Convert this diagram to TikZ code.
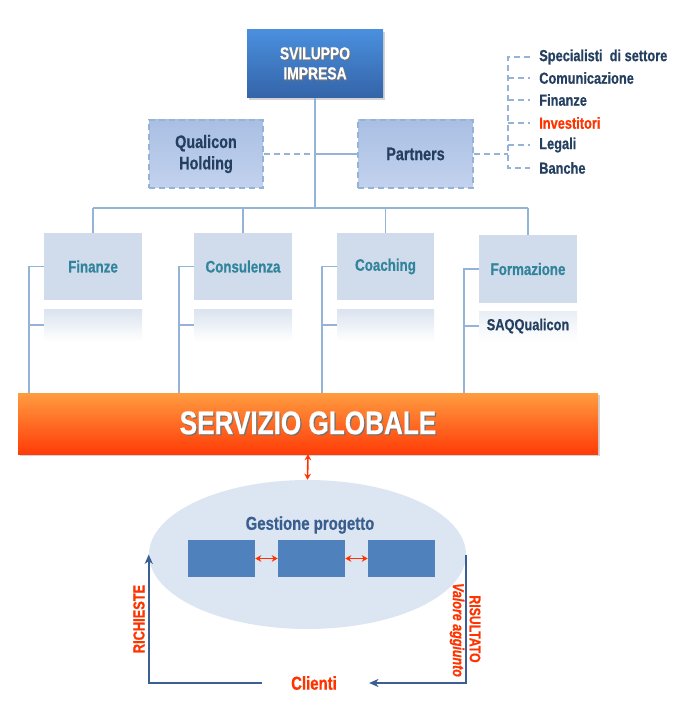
\documentclass[tikz,border=0pt]{standalone}
\usepackage{fontspec}
\setmainfont{Liberation Sans}[FakeStretch=0.8, BoldFeatures={FakeBold=0.6}, BoldItalicFeatures={FakeBold=0.6}]
\usetikzlibrary{shapes.geometric,shadows,calc,arrows.meta}
\definecolor{conn}{HTML}{95B3D7}
\definecolor{navy}{HTML}{243F60}
\definecolor{teal}{HTML}{31849B}
\definecolor{redo}{HTML}{FF3300}
\definecolor{boxf}{HTML}{D0DCEB}
\definecolor{loopc}{HTML}{3B5F94}
\definecolor{pbtop}{HTML}{A9BFE3}
\definecolor{pbbot}{HTML}{C3D2EE}
\definecolor{subtop}{HTML}{DAE3EF}
\newcommand\shtx[1]{\leavevmode\rlap{\kern0.9pt\raisebox{-0.9pt}{\textcolor{black!55}{#1}}}#1}
\tikzset{
  line/.style={draw=conn, line width=1.4pt},
  dline/.style={line, dash pattern=on 4.5pt off 3pt},
  gbox/.style={rectangle, inner sep=0pt, fill=boxf, text=teal, font=\bfseries\fontsize{12.5}{15}\selectfont},
  pbox/.style={rectangle, inner sep=0pt, draw=conn, line width=1.4pt, dash pattern=on 4.5pt off 3pt,
     top color=pbtop, bottom color=pbbot, text=navy, align=center, font=\bfseries\fontsize{13.5}{16}\selectfont},
  subbox/.style={rectangle, inner sep=0pt, top color=subtop, bottom color=white},
  item/.style={anchor=west, inner sep=0pt, text=navy, font=\bfseries\fontsize{12}{14}\selectfont},
  rarr/.style={draw=redo, line width=1.2pt, {Stealth[length=4.5pt,width=5pt]}-{Stealth[length=4.5pt,width=5pt]}},
  larr/.style={draw=loopc, line width=1.4pt, -{Stealth[length=7pt,width=6pt,inset=2pt]}},
  rlab/.style={text=redo, inner sep=0pt, font=\bfseries\fontsize{12}{14}\selectfont},
}
\begin{document}
\begin{tikzpicture}[x=0.75pt,y=-0.75pt]
\useasboundingbox (0,0) rectangle (686,720);
% top box
\node[rectangle, inner sep=0pt, minimum width=136*0.75pt, minimum height=68*0.75pt,
  top color={rgb,255:red,74;green,143;blue,222}, bottom color={rgb,255:red,52;green,100;blue,168},
  drop shadow={shadow xshift=1.5pt, shadow yshift=-1.5pt, opacity=0.35},
  text=white, align=center, font=\bfseries\fontsize{13}{15}\selectfont] (top) at (315,64)
  {\shtx{SVILUPPO}\\\shtx{IMPRESA}};
% bus
\coordinate (busL) at (93,208);
\coordinate (busR) at (528,208);
\draw[line] (busL) -- (busR);
\draw[line] (top.south) -- (top.south |- busL);
% Qualicon & Partners
\node[pbox, minimum width=114*0.75pt, minimum height=68*0.75pt] (qh) at (206,154) {Qualicon\\Holding};
\node[pbox, minimum width=115*0.75pt, minimum height=68*0.75pt] (pa) at (415.5,154) {Partners};
\draw[dline] (qh.east) -- (qh.east -| top.south);
\draw[line] (pa.west) -- (pa.west -| top.south);
% partners list
\node[item] (s1) at (539,57) {Specialisti\ \ di settore};
\node[item] (s2) at (539,78) {Comunicazione};
\node[item] (s3) at (539,100) {Finanze};
\node[item, text=redo] (s4) at (539,123) {Investitori};
\node[item] (s5) at (539,145) {Legali};
\node[item] (s6) at (539,168) {Banche};
\coordinate (pj) at (508,154);
\draw[dline] (pa.east) -- (pj);
\draw[dline] ($(s1.west)+(-9,0)$) -| ($(s6.west)+(-31,0)$) -- ($(s6.west)+(-9,0)$);
\foreach \s in {s2,s3,s4,s5}{
  \draw[dline] ($(\s.west)+(-31,0)$) -- ($(\s.west)+(-9,0)$);
}
% service boxes
\node[gbox, minimum width=98*0.75pt, minimum height=67*0.75pt] (fin) at (93,266.5) {Finanze};
\node[gbox, minimum width=98*0.75pt, minimum height=67*0.75pt] (con) at (243,266.5) {Consulenza};
\node[gbox, minimum width=97*0.75pt, minimum height=67*0.75pt] (coa) at (385.5,266.5) {Coaching};
\node[gbox, minimum width=98*0.75pt, minimum height=68*0.75pt] (for) at (528,269) {Formazione};
\foreach \b in {fin,con,coa,for}{
  \draw[line] (\b.north) -- (\b.north |- busL);
}
\node[subbox, minimum width=98*0.75pt, minimum height=32*0.75pt] (fins) at (93,325) {};
\node[subbox, minimum width=98*0.75pt, minimum height=32*0.75pt] (cons) at (243,325) {};
\node[subbox, minimum width=97*0.75pt, minimum height=32*0.75pt] (coas) at (385.5,325) {};
\node[subbox, top color={rgb,255:red,232;green,238;blue,246}, minimum width=98*0.75pt, minimum height=30*0.75pt,
  text=navy, font=\bfseries\fontsize{12}{14}\selectfont] (fors) at (528,326) {SAQQualicon};
% orange bar
\node[rectangle, inner sep=0pt, minimum width=580*0.75pt, minimum height=61*0.75pt,
  top color={rgb,255:red,255;green,156;blue,64}, bottom color={rgb,255:red,255;green,60;blue,8},
  drop shadow={shadow xshift=1.5pt, shadow yshift=-1.5pt, opacity=0.35},
  text=white, font=\bfseries\fontsize{24.5}{28}\selectfont] (bar) at (308,423.5) {\shtx{SERVIZIO GLOBALE}};
% brackets
\foreach \b/\s in {fin/fins,con/cons,coa/coas,for/fors}{
  \draw[line] (\b.west) -- ++(-15,0) coordinate (tmp) -- (tmp |- bar.north);
  \draw[line] (\s.west) -- (\s.west -| tmp);
}
% ellipse
\node[ellipse, inner sep=0pt, minimum width=317*0.75pt, minimum height=149*0.75pt,
  fill={rgb,255:red,220;green,230;blue,242}] (ell) at (307.5,554.5) {};
\draw[rarr] (bar.south) -- (ell.north);
\node[text={rgb,255:red,58;green,95;blue,143}, font=\bfseries\fontsize{14}{16}\selectfont] (gp) at (310,525) {Gestione progetto};
\node[rectangle, inner sep=0pt, fill={rgb,255:red,79;green,129;blue,189}, minimum width=67*0.75pt, minimum height=37*0.75pt] (r1) at (221.5,558.5) {};
\node[rectangle, inner sep=0pt, fill={rgb,255:red,79;green,129;blue,189}, minimum width=67*0.75pt, minimum height=37*0.75pt] (r2) at (311.5,558.5) {};
\node[rectangle, inner sep=0pt, fill={rgb,255:red,79;green,129;blue,189}, minimum width=67*0.75pt, minimum height=37*0.75pt] (r3) at (401.5,558.5) {};
\draw[rarr] (r1.east) -- (r2.west);
\draw[rarr] (r2.east) -- (r3.west);
% loop
\node[rlab, font=\bfseries\fontsize{14}{16}\selectfont] (cl) at (314,683) {Clienti};
\draw[larr] ($(cl.west)+(-29,0)$) -| (ell.west);
\draw[larr] (ell.east) |- ($(cl.east)+(32,0)$);
\node[rlab, rotate=90] (ric) at (139,619) {RICHIESTE};
\node[rlab, rotate=-90, font=\bfseries\fontsize{11.5}{14}\selectfont] (ris) at (475,629) {RISULTATO};
\node[rlab, rotate=-90, font=\bfseries\itshape\fontsize{11.7}{14}\selectfont] (val) at (457,630) {Valore aggiunto};
\end{tikzpicture}
\end{document}
